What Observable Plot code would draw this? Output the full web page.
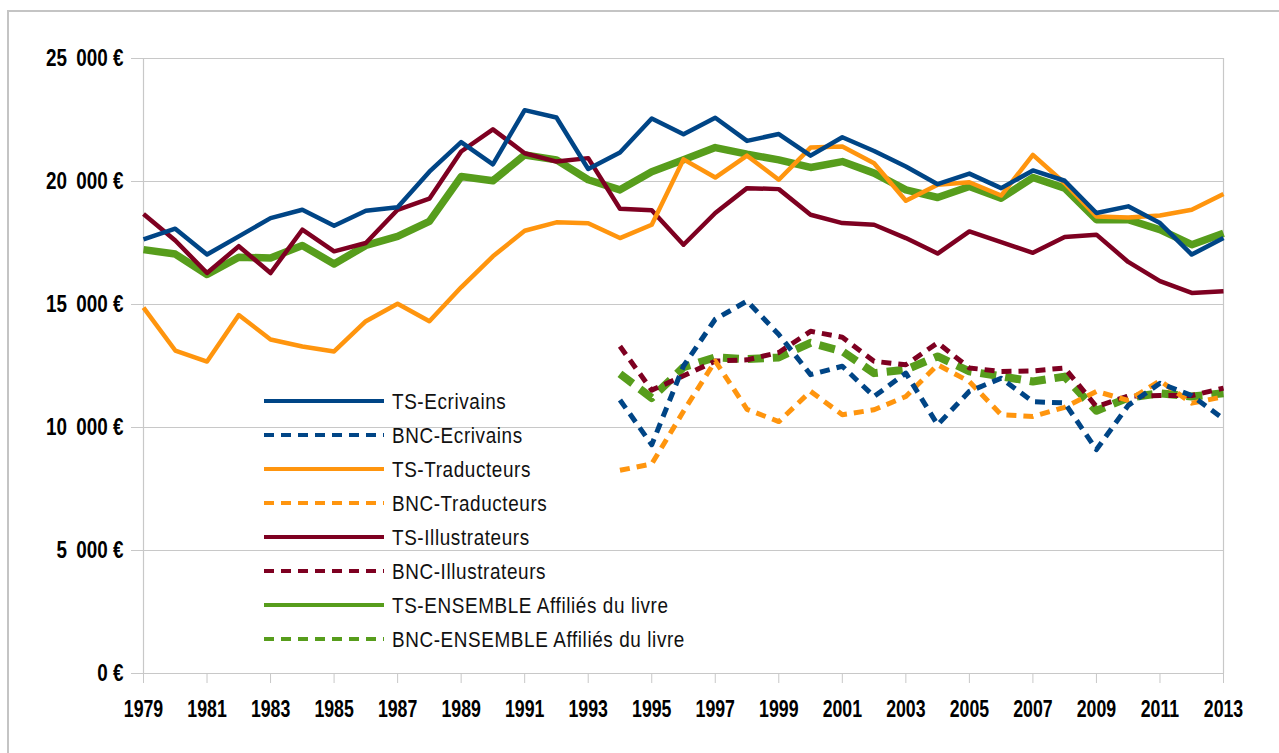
<!DOCTYPE html>
<html>
<head>
<meta charset="utf-8">
<script src="https://cdn.jsdelivr.net/npm/d3@7"></script>
<script src="https://cdn.jsdelivr.net/npm/@observablehq/plot@0.6"></script>
<style>
  body { margin: 0; background: #fff; }
  #wrap { position: relative; width: 1279px; height: 753px; overflow: hidden; background: #fff; }
  #border { position: absolute; left: 7px; top: 10px; width: 1400px; height: 900px;
            border-left: 2px solid #c4c4c4; border-top: 2px solid #c4c4c4; }
  #chart { position: absolute; left: 0; top: 0; }
  #legend { position: absolute; left: 0; top: 0; pointer-events: none; }
</style>
</head>
<body>
<div id="wrap">
  <div id="border"></div>
  <div id="chart"></div>
  <svg id="legend" width="1279" height="753"></svg>
</div>
<script>
// ---------- DATA ----------
const years = [1979,1980,1981,1982,1983,1984,1985,1986,1987,1988,1989,1990,1991,1992,1993,1994,1995,1996,1997,1998,1999,2000,2001,2002,2003,2004,2005,2006,2007,2008,2009,2010,2011,2012,2013];
const bncYears = [1994,1995,1996,1997,1998,1999,2000,2001,2002,2003,2004,2005,2006,2007,2008,2009,2010,2011,2012,2013];

const tsEcrivains = [17650,18080,17030,17770,18510,18850,18200,18810,18950,20400,21600,20700,22900,22600,20510,21180,22560,21920,22590,21650,21930,21050,21800,21240,20610,19890,20320,19730,20450,20030,18720,18990,18310,17030,17700];
const tsTraducteurs = [14870,13130,12680,14570,13580,13290,13090,14320,15030,14320,15700,16960,18000,18340,18300,17700,18240,20900,20160,21050,20070,21380,21420,20740,19220,19870,19970,19430,21080,19930,18580,18540,18620,18850,19490];
const tsIllustrateurs = [18680,17600,16280,17370,16280,18040,17160,17500,18850,19300,21220,22120,21150,20810,20950,18890,18830,17430,18720,19730,19690,18650,18310,18240,17700,17070,17970,17540,17100,17740,17840,16730,15950,15470,15540];
const tsEnsemble = [17230,17050,16220,16920,16890,17400,16650,17400,17770,18380,20200,20030,21080,20880,20070,19660,20400,20880,21380,21110,20880,20570,20810,20340,19660,19350,19800,19320,20160,19730,18450,18450,18040,17430,17900];

const bncEcrivains = [11120,9300,12500,14400,15140,13780,12150,12490,11260,12210,10110,11470,12000,11050,11000,9100,10900,11800,11300,10350];
const bncTraducteurs = [8260,8520,10660,12700,10740,10240,11470,10520,10720,11260,12550,11870,10520,10450,10820,11470,11100,11900,10990,11250];
const bncIllustrateurs = [13300,11520,12100,12700,12750,13050,13910,13670,12690,12550,13440,12420,12280,12300,12420,10850,11280,11300,11300,11600];
const bncEnsemble = [12180,11200,12450,12850,12780,12850,13440,13100,12210,12350,12890,12280,12080,11870,12070,10680,11210,11390,11260,11390];

const seriesNames = ["TS-Ecrivains","BNC-Ecrivains","TS-Traducteurs","BNC-Traducteurs","TS-Illustrateurs","BNC-Illustrateurs","TS-ENSEMBLE Affiliés du livre","BNC-ENSEMBLE Affiliés du livre"];
const yTicks = [0,5000,10000,15000,20000,25000];
const xTicks = [1979,1981,1983,1985,1987,1989,1991,1993,1995,1997,1999,2001,2003,2005,2007,2009,2011,2013];

// ---------- STYLE ----------
const BLUE = "#004586", ORANGE = "#ff950e", RED = "#7e0021", GREEN = "#579d1c";
const series = [
  {name: seriesNames[0], yrs: years,    vals: tsEcrivains,      color: BLUE,   dash: null,    w: 4.5},
  {name: seriesNames[1], yrs: bncYears, vals: bncEcrivains,     color: BLUE,   dash: "10,7",  w: 5},
  {name: seriesNames[2], yrs: years,    vals: tsTraducteurs,    color: ORANGE, dash: null,    w: 4.5},
  {name: seriesNames[3], yrs: bncYears, vals: bncTraducteurs,   color: ORANGE, dash: "10,7",  w: 5},
  {name: seriesNames[4], yrs: years,    vals: tsIllustrateurs,  color: RED,    dash: null,    w: 4.5},
  {name: seriesNames[5], yrs: bncYears, vals: bncIllustrateurs, color: RED,    dash: "10,7",  w: 5},
  {name: seriesNames[6], yrs: years,    vals: tsEnsemble,       color: GREEN,  dash: null,    w: 7.5},
  {name: seriesNames[7], yrs: bncYears, vals: bncEnsemble,      color: GREEN,  dash: "16,9",  w: 8}
];
const rows = s => s.vals.map((v, i) => ({series: s.name, year: s.yrs[i], value: v}));
const drawOrder = [6, 7, 4, 5, 2, 3, 0, 1];

const FONT = "'Liberation Sans', Arial, sans-serif";
const GRID = "#c8c8c8";
const fmtY = d => d === 0 ? "0 €" : `${d / 1000}\u2002000 €`;

const chart = Plot.plot({
  width: 1279,
  height: 753,
  marginLeft: 143,
  marginRight: 56,
  marginTop: 58,
  marginBottom: 80,
  style: {background: "transparent", fontFamily: FONT},
  x: {domain: [1979, 2013], label: null},
  y: {domain: [0, 25000], label: null},
  marks: [
    Plot.ruleY(yTicks, {stroke: GRID, strokeWidth: 1.2}),
    Plot.ruleX([1979, 2013], {stroke: GRID, strokeWidth: 1.2}),
    Plot.axisY(yTicks, {tickSize: 12, tickPadding: 8, stroke: GRID, fill: "#000", tickFormat: fmtY,
      fontSize: 23, fontWeight: "bold", fontFamily: FONT, label: null}),
    Plot.axisX(xTicks, {tickSize: 10, tickPadding: 17, stroke: GRID, fill: "#000", tickFormat: d => String(d),
      fontSize: 23, fontWeight: "bold", fontFamily: FONT, label: null}),
    ...drawOrder.map(i => {
      const s = series[i];
      return Plot.line(rows(s), {x: "year", y: "value", stroke: s.color, strokeWidth: s.w,
        strokeDasharray: s.dash, strokeLinejoin: "round", strokeLinecap: "butt"});
    })
  ]
});
document.getElementById("chart").append(chart);

// condense the axis labels horizontally (narrow-font look)
function condense(sel, k) {
  d3.select(chart).selectAll(sel).each(function() {
    const t = this.getAttribute("transform") || "";
    this.setAttribute("transform", t + ` scale(${k},1)`);
  });
}
condense("g[aria-label='y-axis tick label'] text", 0.82);
condense("g[aria-label='x-axis tick label'] text", 0.77);

// ---------- LEGEND (overlay) ----------
const legend = d3.select("#legend");
const lx0 = 264, lx1 = 384, ltx = 392, ly0 = 401, lstep = 34;
series.forEach((s, i) => {
  const y = ly0 + i * lstep;
  legend.append("line")
    .attr("x1", lx0).attr("x2", lx1).attr("y1", y).attr("y2", y)
    .attr("stroke", s.color).attr("stroke-width", 4)
    .attr("stroke-dasharray", s.dash ? "10,7" : null);
  legend.append("text")
    .attr("transform", `translate(${ltx},${y}) scale(0.86,1)`)
    .attr("dy", "0.35em")
    .attr("font-family", FONT).attr("font-size", 22)
    .attr("letter-spacing", 0.7)
    .attr("fill", "#111")
    .text(s.name);
});
</script>
</body>
</html>
